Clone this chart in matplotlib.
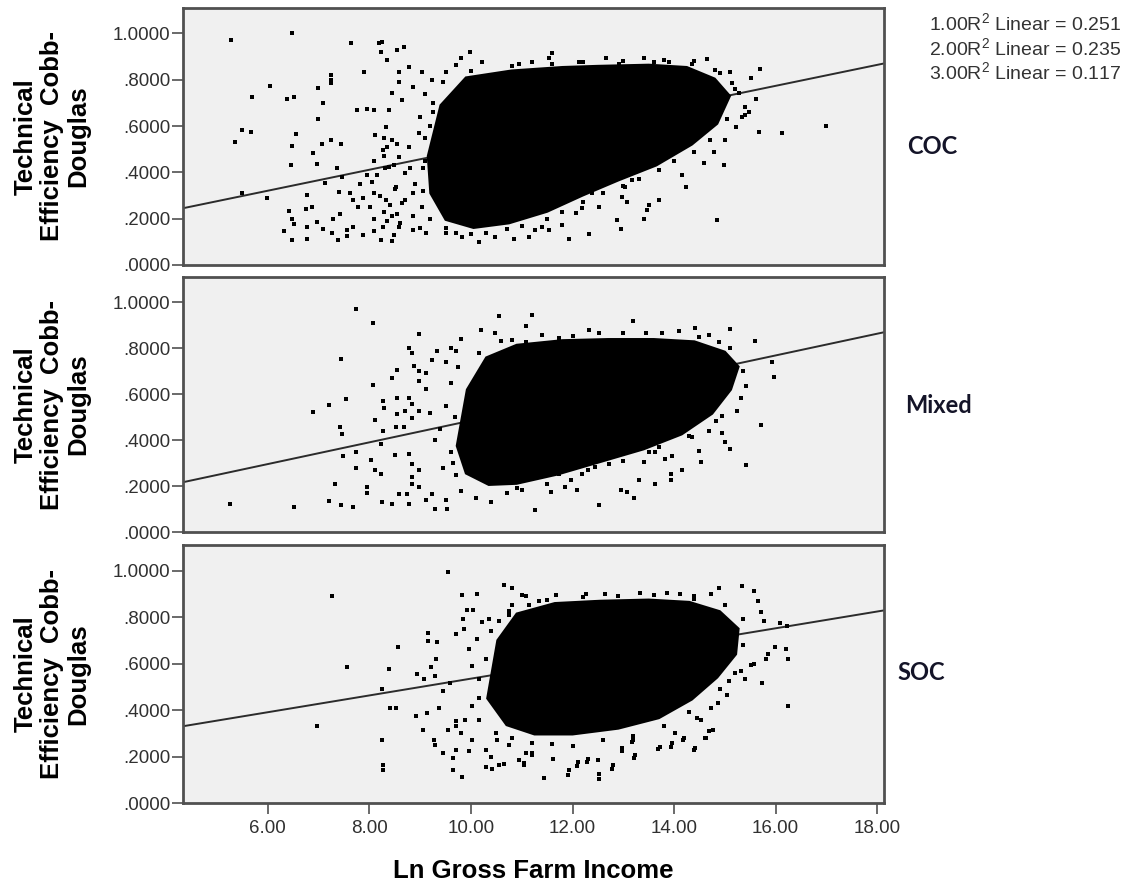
import matplotlib
matplotlib.use("Agg")
import matplotlib.pyplot as plt

plt.rcParams['font.family'] = ['Liberation Sans', 'DejaVu Sans']
plt.rcParams['mathtext.fontset'] = 'custom'
plt.rcParams['mathtext.rm'] = 'Liberation Sans'

# --- data ----------------------------------------------------------------
groups = ['COC', 'Mixed', 'SOC']
r2_labels = ['1.00', '2.00', '3.00']
r2_values = [0.251, 0.235, 0.117]

# fitted lines (intercept, slope) as drawn
fit_intercepts = [0.049, 0.012, 0.174]
fit_slopes = [0.0453, 0.0473, 0.0361]

x_ticks = [6, 8, 10, 12, 14, 16, 18]
y_ticks = [0.0, 0.2, 0.4, 0.6, 0.8, 1.0]

# outline of the black (overplotted) part of each cloud
coc_core = [(9.15, 0.47), (9.4, 0.69), (9.9, 0.81), (10.8, 0.84), (11.8, 0.855), (12.5, 0.86),
            (13.5, 0.865), (14.25, 0.855), (14.8, 0.805), (15.1, 0.73), (14.85, 0.61),
            (14.35, 0.52), (13.65, 0.43), (12.9, 0.365), (12.2, 0.30), (11.5, 0.23),
            (10.75, 0.18), (10.05, 0.16), (9.5, 0.195), (9.2, 0.31)]
mixed_core = [(9.72, 0.375), (9.92, 0.62), (10.3, 0.76), (10.9, 0.815), (11.8, 0.835),
              (12.7, 0.84), (13.6, 0.84), (14.4, 0.83), (15.0, 0.785), (15.27, 0.72),
              (15.12, 0.62), (14.75, 0.515), (14.15, 0.425), (13.4, 0.36), (12.55, 0.305),
              (11.7, 0.25), (10.9, 0.21), (10.35, 0.205), (9.9, 0.255)]
soc_core = [(10.32, 0.45), (10.52, 0.70), (10.9, 0.815), (11.65, 0.86), (12.55, 0.87),
            (13.5, 0.875), (14.3, 0.865), (14.9, 0.825), (15.27, 0.75), (15.22, 0.64),
            (14.85, 0.54), (14.35, 0.445), (13.7, 0.365), (12.9, 0.32), (12.0, 0.295),
            (11.25, 0.295), (10.7, 0.335)]

# individually visible points (outside the black core)
coc_points = [
    (5.27, 0.971), (6.48, 1.00), (5.35, 0.532), (5.50, 0.583), (5.67, 0.575), (5.69, 0.726),
    (6.04, 0.774), (5.50, 0.312), (5.98, 0.288), (6.37, 0.715), (6.51, 0.726), (6.55, 0.564),
    (6.48, 0.514), (6.45, 0.432), (6.99, 0.765), (7.24, 0.82), (7.24, 0.80), (7.24, 0.784),
    (7.09, 0.698), (6.99, 0.629), (7.06, 0.522), (7.24, 0.540), (6.89, 0.485), (6.96, 0.436),
    (7.12, 0.355), (7.63, 0.957), (7.89, 0.834), (7.40, 0.316), (7.47, 0.381), (7.45, 0.522),
    (7.37, 0.419), (7.76, 0.669), (8.09, 0.669), (7.95, 0.675), (8.11, 0.561), (8.28, 0.547),
    (8.19, 0.96), (8.22, 0.921), (8.35, 0.885), (8.55, 0.928), (6.32, 0.148), (6.48, 0.108),
    (6.78, 0.111), (6.42, 0.233), (6.48, 0.20), (6.52, 0.178), (6.77, 0.302), (6.87, 0.252),
    (6.76, 0.243), (6.78, 0.165), (6.97, 0.186), (7.08, 0.157), (7.26, 0.138), (7.38, 0.108),
    (7.55, 0.125), (7.28, 0.20), (7.42, 0.22), (7.55, 0.152), (7.68, 0.28), (7.78, 0.25),
    (7.88, 0.29), (7.61, 0.31), (7.81, 0.35), (7.95, 0.39), (8.09, 0.31), (8.02, 0.25),
    (7.68, 0.164), (7.88, 0.13), (8.09, 0.148), (8.22, 0.108), (8.48, 0.13), (8.35, 0.19),
    (8.55, 0.22), (8.28, 0.23), (8.09, 0.45), (8.28, 0.47), (8.48, 0.43), (8.35, 0.51),
    (8.15, 0.39), (8.55, 0.523),
    (15.70, 0.846), (15.52, 0.806), (15.61, 0.719), (15.47, 0.662), (15.40, 0.647),
    (15.68, 0.573), (16.12, 0.568), (17.00, 0.600), (14.85, 0.194), (14.98, 0.432),
    (14.23, 0.338), (14.16, 0.388), (14.58, 0.439), (14.78, 0.489), (13.40, 0.20),
    (13.47, 0.237), (13.70, 0.28), (13.50, 0.26), (12.88, 0.194), (12.96, 0.154),
    (12.32, 0.132), (11.93, 0.114), (13.04, 0.338), (13.18, 0.367), (12.98, 0.295),
    (13.08, 0.273), (11.80, 0.173), (11.54, 0.151), (11.40, 0.165), (11.27, 0.151),
    (11.14, 0.122), (10.85, 0.112), (10.48, 0.119), (10.16, 0.10), (9.83, 0.122),
    (9.50, 0.137), (9.11, 0.137), (8.85, 0.151), (8.58, 0.165), (8.45, 0.104),
    (12.19, 0.245), (12.39, 0.31), (11.86, 0.28), (12.06, 0.223), (12.52, 0.252),
    (8.25, 0.964), (8.68, 0.942), (8.78, 0.856), (8.58, 0.834), (8.58, 0.791),
    (9.99, 0.921), (9.80, 0.892), (10.22, 0.877), (11.60, 0.914), (11.53, 0.892),
    (13.40, 0.896), (13.60, 0.877), (14.65, 0.888), (15.11, 0.834), (9.04, 0.834),
    (9.24, 0.798), (9.50, 0.834), (9.70, 0.863), (10.94, 0.87), (11.21, 0.877),
    (12.12, 0.877), (12.65, 0.892), (12.91, 0.87), (13.90, 0.877), (14.36, 0.87),
    (14.81, 0.842), (15.14, 0.784), (15.27, 0.741), (15.40, 0.683), (15.34, 0.64),
    (15.21, 0.597), (15.01, 0.54),
    (8.32, 0.597), (8.45, 0.54), (8.26, 0.496), (8.39, 0.424), (8.58, 0.467), (8.71, 0.396),
    (8.52, 0.338), (8.32, 0.281), (8.65, 0.266), (8.85, 0.309), (8.45, 0.21), (8.85, 0.21),
    (9.04, 0.252), (8.26, 0.166), (8.78, 0.511), (8.98, 0.568), (8.39, 0.669), (8.65, 0.712),
    (8.85, 0.769), (8.45, 0.741), (8.05, 0.36), (8.20, 0.30), (8.40, 0.26), (8.30, 0.42),
    (8.50, 0.33), (8.10, 0.20), (8.60, 0.18), (8.70, 0.28), (8.90, 0.35), (9.00, 0.16),
    (9.20, 0.20), (8.80, 0.42), (9.10, 0.45), (9.20, 0.60), (9.00, 0.64), (9.10, 0.74),
    (9.05, 0.32), (9.05, 0.42), (9.1, 0.55), (9.25, 0.70), (9.5, 0.16), (9.7, 0.14),
    (10.0, 0.135), (10.3, 0.14), (10.7, 0.155), (11.0, 0.17), (11.5, 0.20), (11.8, 0.23),
    (12.2, 0.27), (12.6, 0.31), (13.0, 0.34), (13.3, 0.37), (13.7, 0.41), (14.0, 0.45),
    (14.4, 0.49), (14.7, 0.54), (15.05, 0.63), (15.2, 0.76), (14.9, 0.83), (14.4, 0.88),
    (13.8, 0.885), (13.0, 0.88), (12.2, 0.875), (11.6, 0.87), (10.8, 0.86), (10.0, 0.84),
    (9.45, 0.79), (9.25, 0.66),
]

mixed_points = [
    (7.73, 0.969), (8.07, 0.911), (8.98, 0.861), (7.45, 0.753), (8.07, 0.641), (7.53, 0.578),
    (7.20, 0.552), (6.88, 0.523), (7.42, 0.459), (7.47, 0.426), (7.48, 0.33), (7.74, 0.347),
    (7.32, 0.21), (7.20, 0.134), (7.45, 0.117), (7.68, 0.107), (6.51, 0.109), (5.25, 0.12),
    (7.74, 0.278), (7.96, 0.196), (7.96, 0.17), (8.04, 0.314), (8.12, 0.268), (8.22, 0.254),
    (8.27, 0.57), (8.29, 0.541), (8.11, 0.488), (8.27, 0.44), (8.22, 0.383), (8.45, 0.671),
    (8.55, 0.707), (8.55, 0.513), (8.52, 0.455), (8.68, 0.455), (8.25, 0.131), (8.45, 0.124),
    (8.50, 0.337), (8.58, 0.167), (8.75, 0.167), (8.84, 0.21), (8.98, 0.196), (8.78, 0.80),
    (8.84, 0.779), (8.88, 0.721), (8.98, 0.70), (9.11, 0.692), (8.98, 0.657), (9.11, 0.621),
    (9.34, 0.786), (9.24, 0.75), (9.60, 0.80), (9.70, 0.786), (8.78, 0.584), (8.84, 0.556),
    (8.98, 0.527), (8.84, 0.498), (8.71, 0.527), (8.55, 0.584), (8.78, 0.34), (8.84, 0.297),
    (8.98, 0.268), (8.84, 0.239), (8.78, 0.124), (9.11, 0.138), (9.30, 0.102), (9.53, 0.102),
    (9.24, 0.167), (9.50, 0.138), (10.55, 0.94), (11.21, 0.945), (10.47, 0.868), (11.08, 0.897),
    (13.19, 0.92), (14.41, 0.887), (15.11, 0.883), (15.60, 0.832), (15.93, 0.74), (15.97, 0.674),
    (15.72, 0.468), (15.41, 0.292), (15.24, 0.527), (15.41, 0.635), (15.31, 0.584),
    (14.95, 0.505), (14.95, 0.433), (15.01, 0.394), (15.11, 0.361), (14.52, 0.304),
    (14.15, 0.271), (13.96, 0.333), (13.63, 0.21), (13.31, 0.225), (13.93, 0.225),
    (13.93, 0.254), (13.40, 0.304), (13.50, 0.347), (13.63, 0.347), (13.83, 0.318),
    (13.21, 0.146), (12.95, 0.181), (13.08, 0.174), (12.52, 0.117), (11.27, 0.095),
    (11.57, 0.174), (11.86, 0.196), (12.09, 0.181), (11.96, 0.225), (11.73, 0.254),
    (12.19, 0.254), (12.45, 0.282), (12.72, 0.297), (11.01, 0.181), (11.14, 0.239),
    (11.34, 0.268), (11.08, 0.297), (14.49, 0.354), (14.68, 0.441), (14.82, 0.484),
    (14.36, 0.412), (14.62, 0.513), (12.32, 0.88), (12.52, 0.865), (13.44, 0.865),
    (13.77, 0.865), (14.09, 0.873), (14.68, 0.858), (14.88, 0.829), (11.40, 0.858),
    (11.08, 0.829), (11.73, 0.844), (9.80, 0.84), (10.20, 0.88), (10.60, 0.83), (9.50, 0.74),
    (9.4, 0.45), (9.5, 0.55), (9.6, 0.35), (9.7, 0.25), (9.6, 0.65), (9.75, 0.72), (9.8, 0.18),
    (10.1, 0.15), (10.4, 0.13), (10.7, 0.17), (9.65, 0.30), (9.68, 0.50), (9.3, 0.40),
    (9.45, 0.28), (9.2, 0.52), (15.35, 0.70), (15.1, 0.80), (14.5, 0.85), (13.0, 0.865),
    (12.0, 0.855), (10.8, 0.835), (10.15, 0.78), (12.3, 0.27), (13.0, 0.31), (13.7, 0.37),
    (14.3, 0.42), (11.5, 0.21), (10.9, 0.19),
]

soc_points = [
    (9.55, 0.994), (7.27, 0.89), (7.56, 0.583), (6.96, 0.33), (8.57, 0.67), (8.38, 0.576),
    (8.25, 0.489), (8.25, 0.271), (8.27, 0.162), (8.27, 0.14), (8.40, 0.407), (8.53, 0.407),
    (8.91, 0.374), (9.05, 0.316), (9.14, 0.388), (8.94, 0.554), (9.07, 0.532), (9.30, 0.547),
    (9.21, 0.583), (9.32, 0.619), (9.16, 0.73), (9.16, 0.698), (9.34, 0.694), (9.27, 0.273),
    (9.29, 0.251), (9.45, 0.215), (9.64, 0.193), (9.64, 0.14), (9.83, 0.111), (9.37, 0.41),
    (9.45, 0.482), (9.55, 0.316), (9.70, 0.352), (9.58, 0.518), (9.83, 0.893), (10.11, 0.897),
    (9.93, 0.831), (10.04, 0.831), (9.84, 0.792), (9.86, 0.749), (9.70, 0.727), (10.65, 0.936),
    (10.81, 0.926), (11.01, 0.893), (11.14, 0.85), (9.70, 0.229), (9.96, 0.222), (10.02, 0.273),
    (9.80, 0.302), (9.70, 0.33), (9.89, 0.359), (10.02, 0.417), (10.16, 0.359), (10.29, 0.229),
    (10.39, 0.20), (10.29, 0.157), (10.42, 0.146), (10.55, 0.165), (10.65, 0.169),
    (10.94, 0.186), (11.04, 0.172), (11.08, 0.215), (11.21, 0.215), (10.75, 0.251),
    (10.52, 0.273), (10.16, 0.532), (10.02, 0.59), (9.96, 0.662), (10.12, 0.706),
    (10.22, 0.778), (10.35, 0.792), (10.55, 0.785), (10.75, 0.828), (10.81, 0.85),
    (16.24, 0.417), (11.91, 0.121), (12.52, 0.105), (12.78, 0.147), (13.21, 0.192),
    (13.68, 0.232), (13.93, 0.243), (14.40, 0.227), (14.60, 0.279), (14.68, 0.311),
    (14.46, 0.364), (14.18, 0.273), (14.02, 0.30), (13.17, 0.264), (12.97, 0.225),
    (12.29, 0.177), (12.09, 0.16), (14.89, 0.923), (15.33, 0.932), (15.58, 0.913),
    (15.65, 0.869), (15.72, 0.821), (15.77, 0.781), (16.08, 0.774), (16.23, 0.762),
    (15.98, 0.672), (16.21, 0.661), (16.25, 0.621), (15.84, 0.643), (15.80, 0.621),
    (15.58, 0.599), (15.52, 0.592), (15.73, 0.515), (15.32, 0.57), (15.40, 0.534),
    (15.09, 0.526), (15.05, 0.465), (14.86, 0.432), (14.72, 0.41), (14.76, 0.315),
    (14.62, 0.278), (14.42, 0.238), (14.19, 0.278), (13.96, 0.257), (13.73, 0.242),
    (14.52, 0.359), (11.44, 0.106), (12.53, 0.126), (11.94, 0.14), (12.10, 0.177),
    (12.30, 0.191), (12.50, 0.184), (12.80, 0.165), (13.23, 0.206), (12.97, 0.235),
    (13.20, 0.271), (11.61, 0.191), (11.21, 0.206), (11.04, 0.162), (11.67, 0.893),
    (12.27, 0.898), (12.63, 0.901), (13.33, 0.905), (13.86, 0.903), (14.12, 0.898),
    (14.39, 0.876), (14.72, 0.898), (11.08, 0.891), (11.34, 0.869),
    (10.15, 0.45), (10.3, 0.62), (10.5, 0.30), (10.8, 0.28), (11.2, 0.26), (11.6, 0.255),
    (12.0, 0.245), (12.6, 0.27), (13.2, 0.29), (13.8, 0.33), (14.3, 0.39), (14.9, 0.49),
    (15.2, 0.56), (15.35, 0.68), (15.35, 0.79), (15.0, 0.85), (14.4, 0.89), (13.6, 0.895),
    (12.9, 0.89), (12.2, 0.885), (11.5, 0.875), (10.75, 0.81), (10.4, 0.74),
]

cores = [coc_core, mixed_core, soc_core]
points = [coc_points, mixed_points, soc_points]

# --- figure ---------------------------------------------------------------
fig = plt.figure(figsize=(11.34, 8.88), dpi=100)

# panel boxes in figure fractions (left, bottom, width, height)
boxes = [(0.1614, 0.7016, 0.618, 0.2894),
         (0.1614, 0.4009, 0.618, 0.2871),
         (0.1614, 0.0957, 0.618, 0.2906)]
group_label_x = [907, 905, 897]
group_label_y = [146, 405, 673]

x_lo, x_hi = 4.33, 18.13
frame_col = '#505050'

for i, box in enumerate(boxes):
    ax = fig.add_axes(box)
    ax.set_facecolor('#f0f0f0')

    # regression line, under the points
    ax.plot([x_lo, x_hi],
            [fit_intercepts[i] + fit_slopes[i] * x_lo, fit_intercepts[i] + fit_slopes[i] * x_hi],
            color='#2b2b2b', lw=1.4, zorder=2)

    cx, cy = zip(*cores[i])
    ax.fill(cx, cy, color='black', lw=1.5, ec='black', zorder=3)
    px, py = zip(*points[i])
    ax.scatter(px, py, s=11, c='black', marker='s', linewidths=0, zorder=4)

    ax.set_xlim(x_lo, x_hi)
    ax.set_ylim(0, 1.11)
    ax.set_yticks(y_ticks)
    ax.set_yticklabels(['1.0000' if v == 1 else f'{v:.4f}'[1:] for v in y_ticks])
    ax.tick_params(axis='y', direction='out', length=8, width=1.2, color=frame_col,
                   labelsize=13.5, labelcolor='#303030', pad=1)
    for sp in ax.spines.values():
        sp.set_color(frame_col)
        sp.set_linewidth(2)

    ax.set_ylabel('Technical\nEfficiency  Cobb-\nDouglas', fontsize=18.5, fontweight='bold',
                  linespacing=1.12)
    ax.yaxis.set_label_coords(-0.132, 0.5)

    if i < 2:
        ax.set_xticks([])
    else:
        ax.set_xticks(x_ticks)
        ax.set_xticklabels([f'{v:.2f}' for v in x_ticks])
        ax.tick_params(axis='x', direction='out', length=8, width=1.2, color=frame_col,
                       labelsize=13.5, labelcolor='#303030', pad=4)
        ax.set_xlabel('Ln Gross Farm Income', fontsize=18.5, fontweight='bold', labelpad=16)

    fig.text(group_label_x[i] / 1134, 1 - group_label_y[i] / 888, groups[i], fontsize=17,
             fontweight='bold', family=['Lato', 'DejaVu Sans'], color='#141428',
             ha='left', va='center')

# R squared annotations, top right
for k in range(3):
    fig.text(929 / 1134, 1 - (24 + 24.5 * k) / 888,
             f'{r2_labels[k]}R$^2$ Linear = {r2_values[k]:.3f}',
             fontsize=14, color='#333333', ha='left', va='center')

fig.savefig('out.png', dpi=100, facecolor='white')
